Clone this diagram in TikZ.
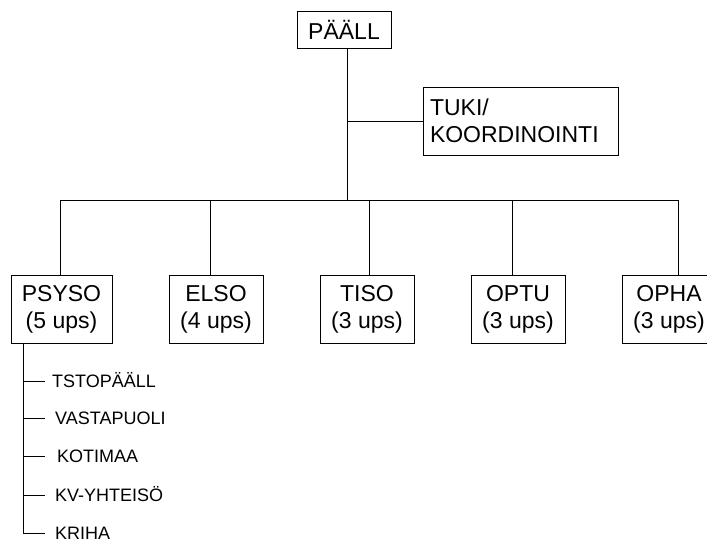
\documentclass[tikz,border=0pt]{standalone}
\usepackage{fontspec}
\setmainfont{Liberation Sans}
\usetikzlibrary{positioning}

\begin{document}
\begin{tikzpicture}[x=1pt,y=-1pt,
  unit/.style={draw,align=center,inner xsep=11pt,minimum height=68pt,font=\fontsize{23}{27}\selectfont},
  boss/.style={draw,inner xsep=11pt,minimum height=37pt,font=\fontsize{23}{27}\selectfont},
  staff/.style={draw,align=left,text width=181pt,inner xsep=7pt,minimum height=68pt,font=\fontsize{23}{27}\selectfont},
  sub/.style={anchor=west,inner sep=0pt,text height=13pt,text depth=0pt,font=\fontsize{18}{22}\selectfont},
  link/.style={line width=0.9pt}]
\useasboundingbox (0,0) rectangle (707,543);
\node[boss] (paell) at (344,29.5) {PÄÄLL};
\node[staff] (tuki) at (520.5,121) {TUKI/\\KOORDINOINTI};
\node[unit] (psyso) at (61.5,309) {PSYSO\\(5 ups)};
\node[unit] (elso) at (216,309) {ELSO\\(4 ups)};
\node[unit] (tiso) at (367,309) {TISO\\(3 ups)};
\node[unit] (optu) at (518,309) {OPTU\\(3 ups)};
\node[unit] (opha) at (669,309) {OPHA\\(3 ups)};
\node[sub] (tsto) at (52,381) {TSTOPÄÄLL};
\node[sub] (vasta) at (55,418) {VASTAPUOLI};
\node[sub] (koti) at (57,456) {KOTIMAA};
\node[sub] (kv) at (55,495) {KV-YHTEISÖ};
\node[sub] (kriha) at (55,533) {KRIHA};
\coordinate (bus) at (347,200);
\draw[link] (bus |- paell.south) -- (bus);
\draw[link] (bus |- tuki.west) -- (tuki.west);
\draw[link] (60,200) -- (678,200);
\foreach \n/\x in {psyso/60,elso/210,tiso/369,optu/512,opha/678}
  \draw[link] (\x,200) -- (\x,200 |- \n.north);
% alayksikot
\draw[link] (23,0 |- psyso.south) -- (23,0 |- kriha.west) -- ++(22,0);
\foreach \n in {tsto,vasta,koti,kv}
  \draw[link] (23,0 |- \n.west) -- ++(22,0);
\end{tikzpicture}
\end{document}
